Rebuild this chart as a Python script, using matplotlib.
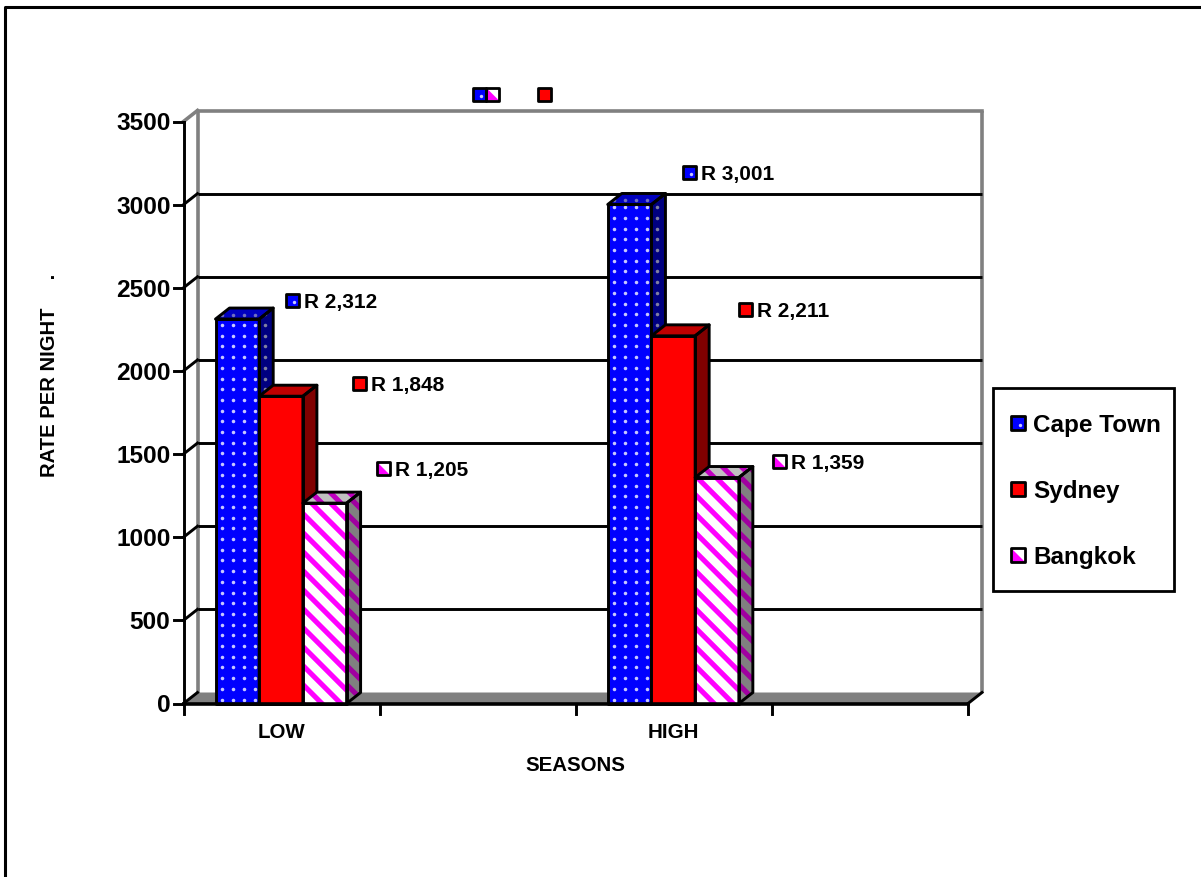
import numpy as np
import matplotlib
matplotlib.use("Agg")
import matplotlib.pyplot as plt
from matplotlib.patches import Polygon, Rectangle

plt.rcParams['font.family'] = ['Liberation Sans', 'DejaVu Sans']
plt.rcParams['font.weight'] = 'bold'

seasons = ['LOW', '', 'HIGH', '']
cities = ['Cape Town', 'Sydney', 'Bangkok']
cape_town = [2312, 3001]
sydney = [1848, 2211]
bangkok = [1205, 1359]
bar_slots = [0, 2]
rate_ticks = [0, 500, 1000, 1500, 2000, 2500, 3000, 3500]

W, H = 1201, 878
fig = plt.figure(figsize=(W / 100, H / 100), dpi=100, facecolor='white')

# Full-figure pixel axes for decoration, chart axes for the front plane
canvas = fig.add_axes([0, 0, 1, 1], zorder=0)
canvas.set_xlim(0, W)
canvas.set_ylim(H, 0)
canvas.axis('off')

X0, X1, Y0, Y1 = 183.5, 968, 704.5, 122.5
ax = fig.add_axes([X0 / W, 1 - Y0 / H, (X1 - X0) / W, (Y0 - Y1) / H], zorder=1)
ax.set_xlim(0, 4)
ax.set_ylim(0, 3500)
ax.patch.set_alpha(0)
for side in ax.spines.values():
    side.set_visible(False)
ax.set_xticks([])
ax.set_yticks([])

PX_X = 4 / (X1 - X0)
PX_Y = 3500 / (Y0 - Y1)
DX = 14 * PX_X
DY = 11 * PX_Y
GREY = '#808080'
LW = 2.1

# Back wall, floor and the depth-shifted grid
ax.add_patch(Polygon([(0, 0), (4, 0), (4 + DX, DY), (DX, DY)], closed=True,
                     fc=GREY, ec='none', clip_on=False, zorder=1))
ax.plot([DX, DX], [DY, 3500 + DY], color=GREY, lw=2.6, clip_on=False, zorder=1.5, solid_capstyle='butt')
ax.plot([4 + DX, 4 + DX], [DY, 3500 + DY], color=GREY, lw=2.6, clip_on=False, zorder=1.5, solid_capstyle='butt')
ax.plot([0, DX], [3500, 3500 + DY], color=GREY, lw=2.6, clip_on=False, zorder=1.5)
ax.plot([DX, 4 + DX], [3500 + DY, 3500 + DY], color=GREY, lw=2.6, clip_on=False, zorder=1.5)
for r in rate_ticks[1:-1]:
    ax.plot([DX, 4 + DX], [r + DY, r + DY], color='black', lw=LW, clip_on=False, zorder=2,
            solid_capstyle='butt')
for r in rate_ticks[:-1]:
    ax.plot([0, DX], [r, r + DY], color='black', lw=LW, clip_on=False, zorder=2)

# Front axes, ticks and labels
ax.plot([0, 0], [0, 3500], color='black', lw=LW, clip_on=False, zorder=3)
ax.plot([0, 4], [0, 0], color='black', lw=2.6, clip_on=False, zorder=6)
ax.plot([4, 4 + DX], [0, DY], color='black', lw=LW, clip_on=False, zorder=2)
for r in rate_ticks:
    ax.plot([-10 * PX_X, 0], [r, r], color='black', lw=LW, clip_on=False, zorder=3)
    ax.text(-13 * PX_X, r - 1.5 * PX_Y, str(r), ha='right', va='center', fontsize=17.6, fontweight='bold')
for i in range(5):
    ax.plot([i, i], [0, -10 * PX_Y], color='black', lw=LW, clip_on=False, zorder=3)
for i, label in enumerate(seasons):
    if label:
        ax.text(i + 0.5, -28 * PX_Y, label, ha='center', va='center', fontsize=14.8, fontweight='bold')

ax.text(2.0, -61 * PX_Y, 'SEASONS', ha='center', va='center', fontsize=14.8, fontweight='bold')
canvas.text(50, 375, 'RATE PER NIGHT     .', rotation=90, ha='center', va='center',
            fontsize=14.6, fontweight='bold')

# Border around the chart area
canvas.plot([5, 5, W + 5], [H + 5, 8, 8], color='black', lw=2.2)


def dots(patch, x_lo, x_hi, y_lo, y_hi, color, size):
    """Fill a face with an evenly spaced dot pattern, clipped to the face."""
    xs = np.arange(x_lo - 11 * PX_X, x_hi + 11 * PX_X, 11 * PX_X) + 6 * PX_X
    ys = np.arange(y_lo - 10.7 * PX_Y, y_hi + 10.7 * PX_Y, 10.7 * PX_Y) + 4 * PX_Y
    gx, gy = np.meshgrid(xs, ys)
    sc = ax.scatter(gx.ravel(), gy.ravel(), s=size, c=color, linewidths=0, zorder=patch.get_zorder() + 0.01)
    sc.set_clip_path(patch)


def stripes(patch, x_lo, x_hi, y_lo, y_hi, color):
    """Fill a face with descending diagonal stripes, clipped to the face."""
    period = 19 * PX_X
    span = (y_hi - y_lo) / PX_Y * PX_X
    for x in np.arange(x_lo - period, x_hi + span + period, period):
        ln, = ax.plot([x - span - period, x + period], [y_hi + period / PX_X * PX_Y, y_lo - period / PX_X * PX_Y],
                      color=color, lw=3.7, zorder=patch.get_zorder() + 0.01, solid_capstyle='butt')
        ln.set_clip_path(patch)


def bar3d(x, w, v, front, side, top, order, fill=None):
    faces = [
        ([(x, 0), (x + w, 0), (x + w, v), (x, v)], front, 0),
        ([(x + w, 0), (x + w + DX, DY), (x + w + DX, v + DY), (x + w, v)], side, 1),
        ([(x, v), (x + w, v), (x + w + DX, v + DY), (x + DX, v + DY)], top, 2),
    ]
    for pts, col, k in faces:
        p = Polygon(pts, closed=True, fc=col, ec='none', clip_on=False, zorder=order)
        ax.add_patch(p)
        arr = np.array(pts)
        if fill:
            fill(p, arr[:, 0].min(), arr[:, 0].max(), arr[:, 1].min(), arr[:, 1].max(), k)
        ax.add_patch(Polygon(pts, closed=True, fc='none', ec='black', lw=LW, joinstyle='round',
                             clip_on=False, zorder=order + 0.02))


def dot_fill(p, a, b, c, d, k):
    dots(p, a, b, c, d, ['#c8c8ff', '#8080a0', '#7070c0'][k], 6.5)


def stripe_fill(p, a, b, c, d, k):
    stripes(p, a, b, c, d, ['#ff00ff', '#a000a0', '#c000c0'][k])


BAR_W = 43.7 * PX_X
BAR_START = 32 * PX_X
for slot, ct, sy, bk in zip(bar_slots, cape_town, sydney, bangkok):
    x = slot + BAR_START
    bar3d(x, BAR_W, ct, '#0000ff', '#000080', '#0000c0', 3.0, dot_fill)
    bar3d(x + BAR_W, BAR_W, sy, '#ff0000', '#800000', '#c00000', 3.2)
    bar3d(x + 2 * BAR_W, BAR_W, bk, '#ffffff', '#808080', '#c0c0c0', 3.4, stripe_fill)


def key(px, py, city, size=13):
    """Small bordered swatch in a series' fill, centred on a pixel position."""
    half = size / 2
    box = [px - half, py - half]
    if city == 'Cape Town':
        canvas.add_patch(Rectangle(box, size, size, fc='#0000ff', ec='none', zorder=5))
        canvas.scatter([px + 1.5], [py + 1.5], s=6, c='#c8c8ff', linewidths=0, zorder=5.1)
    elif city == 'Sydney':
        canvas.add_patch(Rectangle(box, size, size, fc='#ff0000', ec='none', zorder=5))
    else:
        canvas.add_patch(Rectangle(box, size, size, fc='white', ec='none', zorder=5))
        canvas.add_patch(Polygon([(px - half, py - half), (px + half, py + half), (px - half, py + half)],
                                 closed=True, fc='#ff00ff', ec='none', zorder=5.1))
    canvas.add_patch(Rectangle(box, size, size, fc='none', ec='black', lw=2.0, zorder=5.2,
                               joinstyle='round'))


# Stray legend keys above the plot
key(479, 95, 'Cape Town')
key(492.5, 95, 'Bangkok')
key(544.5, 95, 'Sydney')

# Value labels: swatch followed by the rand amount
label_px = {('Cape Town', 0): (292, 301), ('Sydney', 0): (359, 384), ('Bangkok', 0): (383, 469),
            ('Cape Town', 1): (689, 173), ('Sydney', 1): (745, 310), ('Bangkok', 1): (779, 462)}
for city, vals in zip(cities, (cape_town, sydney, bangkok)):
    for j, v in enumerate(vals):
        px, py = label_px[(city, j)]
        key(px, py, city)
        canvas.text(px + 12, py + 1.5, f'R {v:,}', ha='left', va='center', fontsize=15,
                    fontweight='bold', zorder=6)

# Legend panel
canvas.add_patch(Rectangle((993, 389), 181, 203, fc='white', ec='black', lw=2.0, zorder=4))
for city, py in zip(cities, (424, 490, 556)):
    key(1018, py, city, size=14)
    canvas.text(1033, py + 1.5, city, ha='left', va='center', fontsize=17.5, fontweight='bold', zorder=6)

fig.savefig('out.png', dpi=100)
